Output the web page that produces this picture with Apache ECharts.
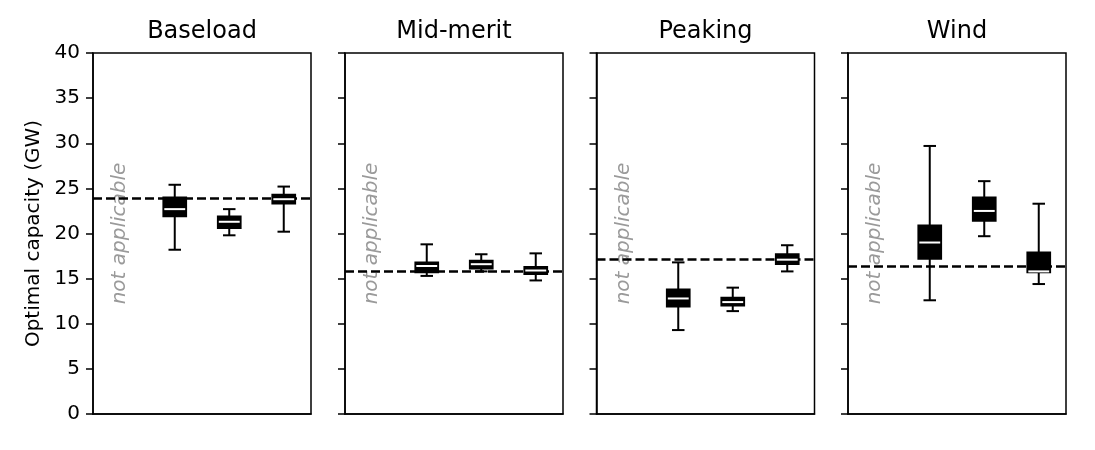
<!DOCTYPE html>
<html>
<head>
<meta charset="utf-8">
<script src="https://cdn.jsdelivr.net/npm/echarts@6/dist/echarts.min.js"></script>
<style>
  html, body { margin: 0; padding: 0; background: #fff; }
  #chart { width: 1095px; height: 450px; }
</style>
</head>
<body>
<div id="chart"></div>
<script>
// panel titles and the four positions on each x axis (labels hidden in the figure)
const panelTitles = ['Baseload', 'Mid-merit', 'Peaking', 'Wind']
const categories = ['n/a', 'A', 'B', 'C']
const yTicks = { min: 0, max: 40, interval: 5 }

// boxes: [category index, low whisker, q1, median, q3, high whisker]
const baseloadBoxes = [
  [1, 18.2, 21.9, 22.7, 24.0, 25.4],
  [2, 19.8, 20.6, 21.3, 21.9, 22.7],
  [3, 20.2, 23.3, 23.8, 24.3, 25.2]
]
const midMeritBoxes = [
  [1, 15.3, 15.7, 16.4, 16.8, 18.8],
  [2, 15.8, 16.1, 16.6, 17.0, 17.7],
  [3, 14.8, 15.5, 15.9, 16.3, 17.8]
]
const peakingBoxes = [
  [1, 9.3, 11.9, 12.8, 13.8, 16.8],
  [2, 11.4, 12.0, 12.4, 12.9, 14.0],
  [3, 15.8, 16.6, 17.1, 17.7, 18.7]
]
const windBoxes = [
  [1, 12.6, 17.2, 19.0, 20.9, 29.7],
  [2, 19.7, 21.4, 22.5, 24.0, 25.8],
  [3, 14.4, 15.7, 15.8, 17.9, 23.3]
]
const panelBoxes = [baseloadBoxes, midMeritBoxes, peakingBoxes, windBoxes]

// dashed reference level per panel
const referenceLines = [23.9, 15.8, 17.1, 16.4]

// "not applicable" note, placed at first category
const naText = 'not applicable'
const naPoint = [0, 20]

const fontFamily = 'DejaVu Sans'
const gridLefts = [93, 345, 596.5, 848]
const gridWidth = 218
const gridTop = 53
const gridHeight = 361

function renderBox (params, api) {
  const x = api.value(0)
  const low = api.coord([x, api.value(1)])
  const q1 = api.coord([x, api.value(2)])
  const med = api.coord([x, api.value(3)])
  const q3 = api.coord([x, api.value(4)])
  const high = api.coord([x, api.value(5)])
  const cx = low[0]
  const bw = api.size([1, 0])[0] * 0.42
  const capW = 12.5
  const stroke = { stroke: '#000', lineWidth: 2 }
  return {
    type: 'group',
    children: [
      { type: 'line', shape: { x1: cx, y1: low[1], x2: cx, y2: high[1] }, style: stroke },
      { type: 'line', shape: { x1: cx - capW / 2, y1: low[1], x2: cx + capW / 2, y2: low[1] }, style: stroke },
      { type: 'line', shape: { x1: cx - capW / 2, y1: high[1], x2: cx + capW / 2, y2: high[1] }, style: stroke },
      {
        type: 'rect',
        shape: { x: cx - bw / 2, y: q3[1], width: bw, height: q1[1] - q3[1] },
        style: { fill: '#000', stroke: '#000', lineWidth: 1.8 }
      },
      {
        type: 'line',
        shape: { x1: cx - bw / 2 + 1, y1: med[1], x2: cx + bw / 2 - 1, y2: med[1] },
        style: { stroke: '#fff', lineWidth: 2 }
      }
    ]
  }
}

function renderNote (params, api) {
  const p = api.coord([api.value(0), api.value(1)])
  return {
    type: 'text',
    x: p[0],
    y: p[1],
    rotation: Math.PI / 2,
    style: {
      text: naText,
      fontFamily,
      fontSize: 20,
      fontStyle: 'italic',
      fill: '#9a9a9a',
      align: 'center',
      verticalAlign: 'middle'
    }
  }
}

const grid = []
const xAxis = []
const yAxis = []
const series = []
const graphic = []

panelTitles.forEach((title, i) => {
  grid.push({
    left: gridLefts[i],
    top: gridTop,
    width: gridWidth,
    height: gridHeight,
    show: true,
    borderColor: '#000',
    borderWidth: 1.5,
    backgroundColor: 'transparent'
  })

  xAxis.push({
    type: 'category',
    gridIndex: i,
    data: categories,
    boundaryGap: true,
    axisLine: { lineStyle: { color: '#000', width: 1.5 } },
    axisTick: { alignWithLabel: true, length: 7, lineStyle: { color: '#000', width: 1.5 } },
    axisLabel: { show: false },
    splitLine: { show: false }
  })

  yAxis.push({
    type: 'value',
    gridIndex: i,
    min: yTicks.min,
    max: yTicks.max,
    interval: yTicks.interval,
    name: i === 0 ? 'Optimal capacity (GW)' : '',
    nameLocation: 'middle',
    nameGap: 49,
    nameTextStyle: { fontFamily, fontSize: 20, color: '#000' },
    axisLine: { show: true, lineStyle: { color: '#000', width: 1.5 } },
    axisTick: { show: true, length: 7, lineStyle: { color: '#000', width: 1.5 } },
    axisLabel: { show: i === 0, fontFamily, fontSize: 20, color: '#000', margin: 13 },
    splitLine: { show: false }
  })

  series.push({
    type: 'custom',
    xAxisIndex: i,
    yAxisIndex: i,
    z: 2,
    renderItem: renderNote,
    data: [naPoint],
    silent: true,
    markLine: {
      silent: true,
      symbol: 'none',
      label: { show: false },
      lineStyle: { color: '#000', width: 2.7, type: [9, 4] },
      data: [{ yAxis: referenceLines[i] }]
    }
  })

  series.push({
    type: 'custom',
    xAxisIndex: i,
    yAxisIndex: i,
    z: 5,
    renderItem: renderBox,
    encode: { x: 0, y: [1, 2, 3, 4, 5] },
    data: panelBoxes[i],
    silent: true
  })

  graphic.push({
    type: 'text',
    x: gridLefts[i] + gridWidth / 2,
    y: 32,
    style: {
      text: title,
      fontFamily,
      fontSize: 24,
      fill: '#000',
      align: 'center',
      verticalAlign: 'middle'
    }
  })
})

const chart = echarts.init(document.getElementById('chart'))
chart.setOption({
  animation: false,
  backgroundColor: '#fff',
  textStyle: { fontFamily },
  grid,
  xAxis,
  yAxis,
  series,
  graphic
})
</script>
</body>
</html>
